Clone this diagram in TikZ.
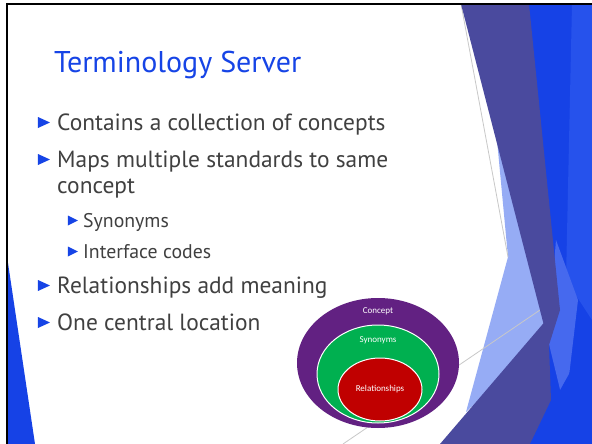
\documentclass[tikz,border=0pt]{standalone}
\usepackage{fontspec}
\setmainfont{PT Sans}
\newfontfamily\labelfont{Carlito}
\usetikzlibrary{positioning,shapes.geometric}
\definecolor{titleblue}{RGB}{22,68,230}
\definecolor{bodygray}{RGB}{64,64,64}
\definecolor{facetblue}{RGB}{22,66,230}
\definecolor{facetpale}{RGB}{38,82,236}
\definecolor{facetmid}{RGB}{70,105,238}
\definecolor{facetlight}{RGB}{150,172,245}
\definecolor{facetnavy}{RGB}{74,74,158}
\definecolor{linegray}{RGB}{200,200,200}
\definecolor{ringpurple}{RGB}{98,33,130}
\definecolor{ringgreen}{RGB}{0,176,80}
\definecolor{ringred}{RGB}{192,0,0}

\begin{document}
\begin{tikzpicture}[x=1pt,y=-1pt,
  item/.style={anchor=base west, inner sep=0pt, text=bodygray, font=\fontsize{23.4}{27}\selectfont},
  subitem/.style={item, font=\fontsize{19.8}{23}\selectfont},
  bullet/.style={isosceles triangle, isosceles triangle stretches, fill=titleblue, inner sep=0pt, minimum width=11pt, minimum height=12pt},
  subbullet/.style={bullet, minimum width=10pt, minimum height=10pt},
  ring/.style={ellipse, draw=white, line width=1pt, inner sep=0pt},
  ringtext/.style={text=white, inner sep=0pt, font=\labelfont\fontsize{9}{10}\selectfont}]
\useasboundingbox (0,0) rectangle (592,444);
\fill[white] (0,0) rectangle (592,444);

% facets on the right
\fill[facetblue] (525,4) -- (592,4) -- (592,444) -- (520,444) -- (545,320) -- cycle;
\fill[facetpale] (572,4) -- (592,4) -- (592,320) -- (566,280) -- cycle;
\fill[facetmid] (556,240) -- (578,300) -- (565,410) -- (548,340) -- cycle;
\fill[facetlight] (497,140) -- (552,330) -- (466,412) -- (508,257) -- cycle;
\draw[linegray, line width=.8pt] (461,4) -- (508,257);
\draw[linegray, line width=.8pt] (343,444) -- (540,310);
\fill[facetnavy] (461,4) -- (529,4) -- (560,310) -- (549,345) -- cycle;
\fill[facetnavy] (440,444) -- (548,318) -- (551,400) -- (530,444) -- cycle;
\fill[facetblue] (530,444) -- (592,333) -- (592,444) -- cycle;
% facet on the left
\fill[facetblue] (8,263) -- (35,444) -- (8,444) -- cycle;

% frame
\draw[line width=2.5pt] (6,4) -- (592,4);
\draw[line width=2pt] (7,3) -- (7,444);

\node[anchor=base west, inner sep=0pt, text=titleblue, font=\fontsize{30}{34}\selectfont] (title) at (54,73) {Terminology Server};

\node[item] (t1) at (57,130) {Contains a collection of concepts};
\node[bullet] (b1) at ([xshift=-15.5pt,yshift=7.5pt] t1.base west) {};
\node[item] (t2) at (57,167) {Maps multiple standards to same};
\node[bullet] (b2) at ([xshift=-15.5pt,yshift=7.5pt] t2.base west) {};
\node[item] (t2b) at (57,193) {concept};
\node[subitem] (s1) at (83,227) {Synonyms};
\node[subbullet] (sb1) at ([xshift=-12pt,yshift=6.5pt] s1.base west) {};
\node[subitem] (s2) at (83,258) {Interface codes};
\node[subbullet] (sb2) at ([xshift=-12pt,yshift=6.5pt] s2.base west) {};
\node[item] (t3) at (57,293) {Relationships add meaning};
\node[bullet] (b3) at ([xshift=-15.5pt,yshift=7.5pt] t3.base west) {};
\node[item] (t4) at (57,330) {One central location};
\node[bullet] (b4) at ([xshift=-15.5pt,yshift=7.5pt] t4.base west) {};

% nested rings
\node[ellipse, fill=ringpurple, inner sep=0pt, minimum width=162pt, minimum height=130pt] (concept) at (378,363) {};
\node[ring, fill=ringgreen, minimum width=122pt, minimum height=98pt] (synonyms) at (378,374) {};
\node[ring, fill=ringred, minimum width=84pt, minimum height=63pt, text=white, font=\labelfont\fontsize{9}{10}\selectfont] (relations) at (380,389.5) {Relationships};
\node[ringtext, below=10pt of concept.north] (conceptlbl) {Concept};
\node[ringtext, below=12pt of synonyms.north] (synonymslbl) {Synonyms};
\end{tikzpicture}
\end{document}
